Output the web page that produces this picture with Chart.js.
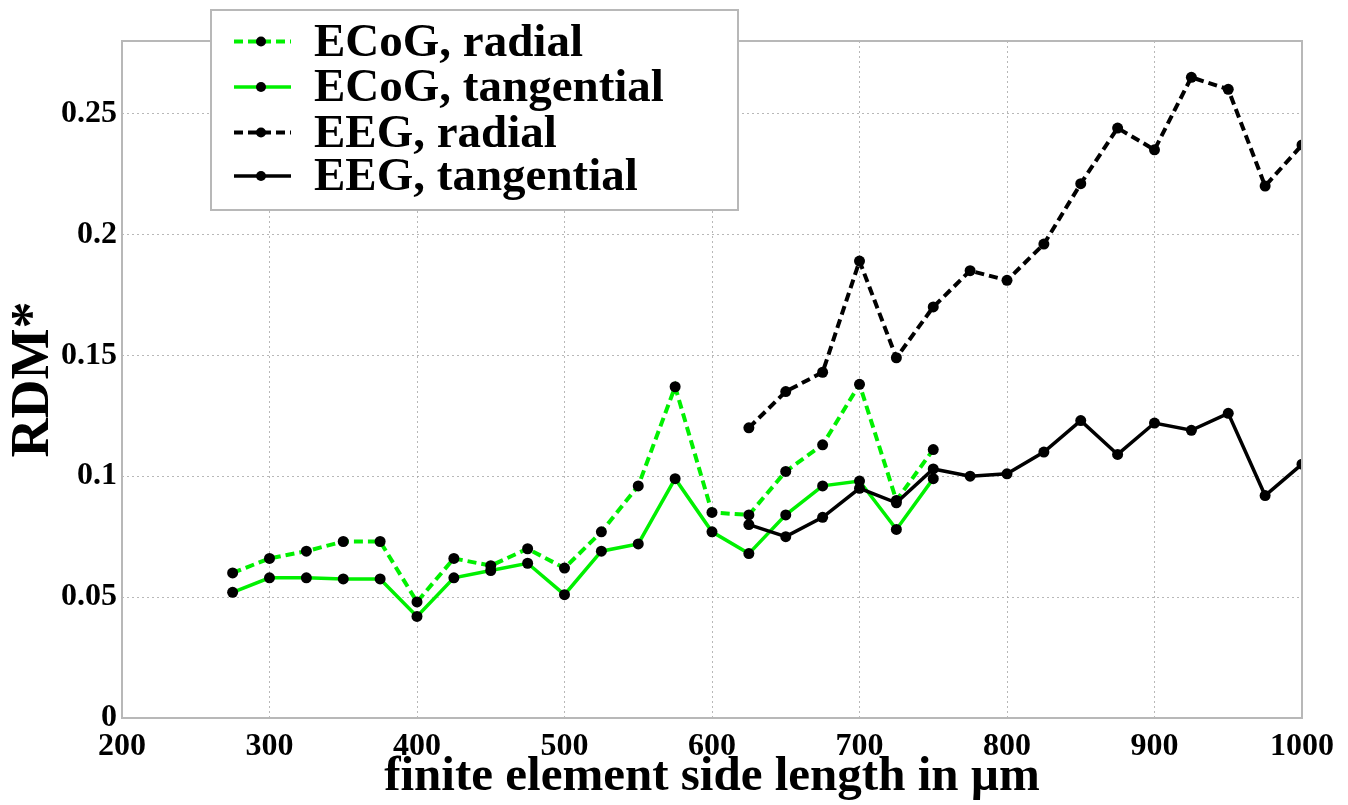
<!DOCTYPE html>
<html lang="en">
<head>
    <meta charset="UTF-8">
    <title>RDM* vs finite element side length</title>
    <script src="https://cdn.jsdelivr.net/npm/chart.js"></script>
    <style>
        html, body { margin: 0; padding: 0; background: #fff; }
        #wrap { position: relative; width: 1348px; height: 805px; }
    </style>
</head>
<body>
    <div id="wrap"><canvas id="rdmChart"></canvas></div>

    <script>
        // side lengths (µm)
        const ecogLengths = [275, 300, 325, 350, 375, 400, 425, 450, 475, 500, 525, 550, 575, 600, 625, 650, 675, 700, 725, 750];
        const eegLengths = [625, 650, 675, 700, 725, 750, 775, 800, 825, 850, 875, 900, 925, 950, 975, 1000];

        // RDM* values
        const ecogRadial = [0.060, 0.066, 0.069, 0.073, 0.073, 0.048, 0.066, 0.063, 0.070, 0.062, 0.077, 0.096, 0.137, 0.085, 0.084, 0.102, 0.113, 0.138, 0.090, 0.111];
        const ecogTangential = [0.052, 0.058, 0.058, 0.0575, 0.0575, 0.042, 0.058, 0.061, 0.064, 0.051, 0.069, 0.072, 0.099, 0.077, 0.068, 0.084, 0.096, 0.098, 0.078, 0.099];
        const eegRadial = [0.120, 0.135, 0.143, 0.189, 0.149, 0.170, 0.185, 0.181, 0.196, 0.221, 0.244, 0.235, 0.265, 0.260, 0.220, 0.237];
        const eegTangential = [0.080, 0.075, 0.083, 0.095, 0.089, 0.103, 0.100, 0.101, 0.110, 0.123, 0.109, 0.122, 0.119, 0.126, 0.092, 0.105];

        const seriesNames = ['ECoG, radial', 'ECoG, tangential', 'EEG, radial', 'EEG, tangential'];
        const xTicks = [200, 300, 400, 500, 600, 700, 800, 900, 1000];
        const yTicks = [0, 0.05, 0.1, 0.15, 0.2, 0.25];

        const GREEN = '#00f000';
        const GRID = 'rgba(160,160,160,0.75)';
        const FRAME = '#b8b8b8';
        const SERIF = '"Liberation Serif", "DejaVu Serif", serif';

        const pts = (xs, ys) => xs.map((x, i) => ({ x: x, y: ys[i] }));

        function line(label, data, color, dashed, order) {
            return {
                label: label,
                data: data,
                borderColor: color,
                borderWidth: dashed ? 4 : 3.5,
                borderDash: dashed ? [9, 5] : [],
                pointRadius: 5.5,
                pointBackgroundColor: '#000',
                pointBorderWidth: 0,
                tension: 0,
                fill: false,
                order: order
            };
        }

        // frame around the plot + legend box drawn inside the plot
        const frameAndLegend = {
            id: 'frameAndLegend',
            afterDraw(chart) {
                const ctx = chart.ctx;
                const a = chart.chartArea;
                ctx.save();
                ctx.strokeStyle = FRAME;
                ctx.lineWidth = 2;
                ctx.setLineDash([]);
                ctx.strokeRect(a.left, a.top, a.right - a.left, a.bottom - a.top);

                // legend
                const bx = 211, by = 10, bw = 527, bh = 200;
                ctx.fillStyle = '#fff';
                ctx.fillRect(bx, by, bw, bh);
                ctx.strokeRect(bx, by, bw, bh);
                const rows = [41.5, 87, 132.5, 176];
                chart.data.datasets.forEach((ds, i) => {
                    const y = rows[i];
                    ctx.strokeStyle = ds.borderColor;
                    ctx.lineWidth = ds.borderWidth;
                    ctx.setLineDash(ds.borderDash);
                    ctx.beginPath();
                    ctx.moveTo(234, y);
                    ctx.lineTo(291, y);
                    ctx.stroke();
                    ctx.setLineDash([]);
                    ctx.fillStyle = '#000';
                    ctx.beginPath();
                    ctx.arc(261, y, 5, 0, Math.PI * 2);
                    ctx.fill();
                    ctx.font = 'bold 47px ' + SERIF;
                    ctx.textAlign = 'left';
                    ctx.textBaseline = 'alphabetic';
                    ctx.fillText(ds.label, 314, y + 14);
                });
                ctx.restore();
            }
        };

        const ctx = document.getElementById('rdmChart').getContext('2d');
        new Chart(ctx, {
            type: 'line',
            data: {
                datasets: [
                    line(seriesNames[0], pts(ecogLengths, ecogRadial), GREEN, true, 3),
                    line(seriesNames[1], pts(ecogLengths, ecogTangential), GREEN, false, 2),
                    line(seriesNames[2], pts(eegLengths, eegRadial), '#000', true, 1),
                    line(seriesNames[3], pts(eegLengths, eegTangential), '#000', false, 0)
                ]
            },
            options: {
                responsive: true,
                maintainAspectRatio: false,
                animation: false,
                layout: { padding: { top: 41, right: 46, left: 0, bottom: 0 } },
                plugins: {
                    legend: { display: false },
                    tooltip: { enabled: false }
                },
                scales: {
                    x: {
                        type: 'linear',
                        min: 200,
                        max: 1000,
                        afterBuildTicks: s => { s.ticks = xTicks.map(v => ({ value: v })); },
                        afterFit: s => { s.height = 87; },
                        border: { display: false, dash: [2, 3] },
                        grid: { color: GRID, lineWidth: 1, drawTicks: false },
                        ticks: {
                            color: '#000',
                            padding: 10,
                            maxRotation: 0,
                            font: { family: SERIF, size: 32, weight: 'bold' },
                            callback: v => String(v)
                        },
                        title: {
                            display: true,
                            text: 'finite element side length in µm',
                            color: '#000',
                            padding: { top: 0, bottom: -2 },
                            font: { family: SERIF, size: 49, weight: 'bold' }
                        }
                    },
                    y: {
                        type: 'linear',
                        min: 0,
                        max: 0.28,
                        afterBuildTicks: s => { s.ticks = yTicks.map(v => ({ value: v })); },
                        afterFit: s => { s.width = 122; },
                        border: { display: false, dash: [2, 3] },
                        grid: { color: GRID, lineWidth: 1, drawTicks: false },
                        ticks: {
                            color: '#000',
                            padding: 5,
                            font: { family: SERIF, size: 32, weight: 'bold' },
                            callback: v => String(+v.toFixed(2))
                        },
                        title: {
                            display: true,
                            text: 'RDM*',
                            color: '#000',
                            padding: { top: 2, bottom: 0 },
                            font: { family: SERIF, size: 54, weight: 'bold' }
                        }
                    }
                }
            },
            plugins: [frameAndLegend]
        });
    </script>
</body>
</html>
